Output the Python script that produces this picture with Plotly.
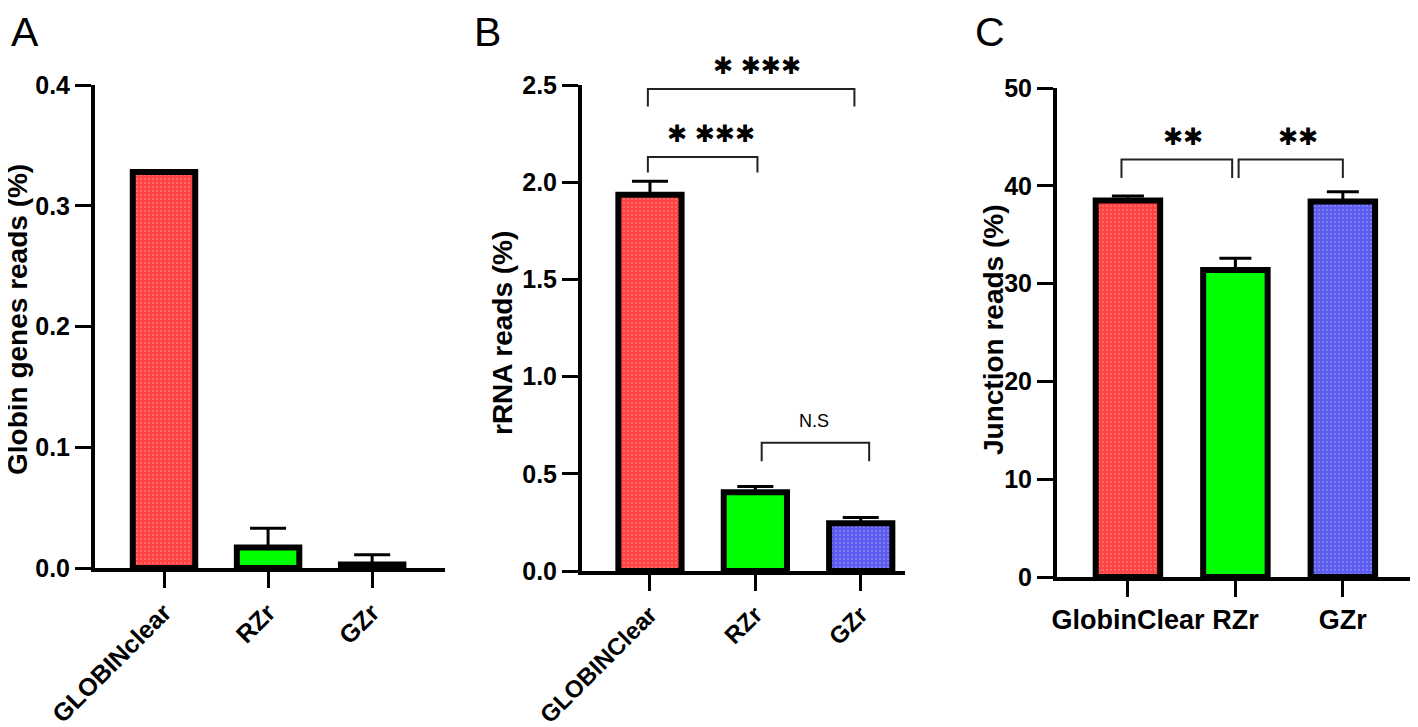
import plotly.graph_objects as go

W, H = 1418, 727
OFF = 8  # page body margin

# ---------------- data ----------------
cats_a = ["GLOBINclear", "RZr", "GZr"]
vals_a = [0.328, 0.017, 0.003]
err_a = [0.0, 0.016, 0.008]

cats_b = ["GLOBINClear", "RZr", "GZr"]
vals_b = [1.935, 0.405, 0.245]
err_b = [0.07, 0.03, 0.03]

cats_c = ["GlobinClear", "RZr", "GZr"]
vals_c = [38.5, 31.4, 38.4]
err_c = [0.45, 1.2, 1.0]

yticks_a = [0.0, 0.1, 0.2, 0.3, 0.4]
yticks_b = [0.0, 0.5, 1.0, 1.5, 2.0, 2.5]
yticks_c = [0, 10, 20, 30, 40, 50]

titles = ["Globin genes reads (%)", "rRNA reads (%)", "Junction reads (%)"]
panel_letters = ["A", "B", "C"]

colors = ["#ff4242", "#00ff00", "#5c5cf0"]
pat_shapes = [".", "", "."]
pat_fg = ["#ec3c3c", "#00ff00", "#787890"]

FONT = "Liberation Sans"


def px(x):
    return (x - OFF) / W


def py(y):
    return 1 - (y - OFF) / H


fig = go.Figure()

panels = [
    dict(cats=cats_a, vals=vals_a, err=err_a, ticks=yticks_a, fmt=".1f",
         xd=[px(95), px(445)], yd=[py(568), py(85)], xr=[-0.663, 2.70],
         yr=[0, 0.4], angle=-45, capw=18, fs=25),
    dict(cats=cats_b, vals=vals_b, err=err_b, ticks=yticks_b, fmt=".1f",
         xd=[px(582), px(905)], yd=[py(571), py(85)], xr=[-0.645, 2.42],
         yr=[0, 2.5], angle=-45, capw=18, fs=24),
    dict(cats=cats_c, vals=vals_c, err=err_c, ticks=yticks_c, fmt="d",
         xd=[px(1057), px(1417)], yd=[py(577), py(88)], xr=[-0.66, 2.69],
         yr=[0, 50], angle=0, capw=16, fs=27),
]

for i, p in enumerate(panels):
    n = i + 1
    xa = "x" if n == 1 else f"x{n}"
    ya = "y" if n == 1 else f"y{n}"
    fig.add_trace(go.Bar(
        x=list(range(len(p["cats"]))), y=p["vals"], width=0.6,
        marker=dict(color=colors, line=dict(color="black", width=6),
                    pattern=dict(shape=pat_shapes, fgcolor=pat_fg, size=4,
                                 solidity=0.12)),
        error_y=dict(type="data", symmetric=False, array=p["err"],
                     arrayminus=[0] * len(p["err"]), color="black",
                     thickness=3, width=p["capw"]),
        xaxis=xa, yaxis=ya, showlegend=False,
    ))
    yfont = dict(family=FONT, size=25, color="black", weight="bold")
    xfont = dict(family=FONT, size=p["fs"], color="black", weight="bold")
    fig.layout[f"xaxis{'' if n == 1 else n}"] = dict(
        domain=p["xd"], range=p["xr"], anchor=ya, automargin=False,
        tickmode="array", tickvals=list(range(len(p["cats"]))),
        ticktext=p["cats"], tickangle=p["angle"], tickfont=xfont,
        showline=True, linecolor="black", linewidth=4,
        ticks="outside", ticklen=16, tickwidth=3, tickcolor="black",
        showgrid=False, zeroline=False, fixedrange=True,
    )
    fig.layout[f"yaxis{'' if n == 1 else n}"] = dict(
        domain=p["yd"], range=p["yr"], anchor=xa, automargin=False,
        tickmode="array", tickvals=p["ticks"],
        ticktext=[format(t, p["fmt"]) for t in p["ticks"]], tickfont=yfont,
        showline=True, linecolor="black", linewidth=4,
        ticks="outside", ticklen=16, tickwidth=3, tickcolor="black",
        showgrid=False, zeroline=False, fixedrange=True,
    )


def to_paper(pi, xv, yv):
    p = panels[pi]
    fx = (xv - p["xr"][0]) / (p["xr"][1] - p["xr"][0])
    fy = (yv - p["yr"][0]) / (p["yr"][1] - p["yr"][0])
    return (p["xd"][0] + fx * (p["xd"][1] - p["xd"][0]),
            p["yd"][0] + fy * (p["yd"][1] - p["yd"][0]))


ann = []
# panel letters
for letter, xx in zip(panel_letters, [25, 488, 990]):
    ann.append(dict(text=letter, x=px(xx), y=1.0, xref="paper", yref="paper",
                    showarrow=False, xanchor="center", yanchor="top",
                    borderpad=0,
                    font=dict(family=FONT, size=41, color="black")))
# y titles
for t, xx, yy in zip(titles, [17, 502, 993], [320, 333, 330]):
    ann.append(dict(text=t, x=px(xx), y=py(yy), xref="paper", yref="paper",
                    textangle=-90, showarrow=False, xanchor="center",
                    yanchor="middle", borderpad=0,
                    font=dict(family=FONT, size=28, color="black",
                              weight="bold")))

# significance brackets: (panel, x0, x1, ytop, ybottom, label, lx, ly, size)
brackets = [
    (1, -0.02, 1.02, 2.13, 2.05, "✱ ✱✱✱", 0.58, 2.25, 24),
    (1, -0.02, 1.94, 2.48, 2.39, "✱ ✱✱✱", 1.02, 2.60, 24),
    (1, 1.06, 2.08, 0.66, 0.565, "N.S", 1.56, 0.77, 18),
    (2, -0.06, 0.97, 42.7, 40.8, "✱✱", 0.51, 45.0, 24),
    (2, 1.03, 2.0, 42.7, 40.8, "✱✱", 1.58, 45.0, 24),
]
shapes = []
for pi, x0, x1, yt, yb, lab, lx, ly, fs in brackets:
    ax = str(pi + 1)
    shapes.append(dict(type="path", xref=f"x{ax}", yref=f"y{ax}",
                       path=f"M {x0},{yb} L {x0},{yt} L {x1},{yt} L {x1},{yb}",
                       line=dict(color="#222222", width=2)))
    fam = FONT if lab == "N.S" else "DejaVu Sans"
    ax_, ay_ = to_paper(pi, lx, ly)
    ann.append(dict(text=lab, x=ax_, y=ay_, xref="paper", yref="paper",
                    showarrow=False, xanchor="center", yanchor="middle",
                    font=dict(family=fam, size=fs, color="black")))

fig.update_layout(
    width=W, height=H, margin=dict(l=0, r=0, t=0, b=0),
    paper_bgcolor="white", plot_bgcolor="white",
    annotations=ann, shapes=shapes, bargap=0.4,
)

fig.write_html("out.html", config={"displayModeBar": False})
